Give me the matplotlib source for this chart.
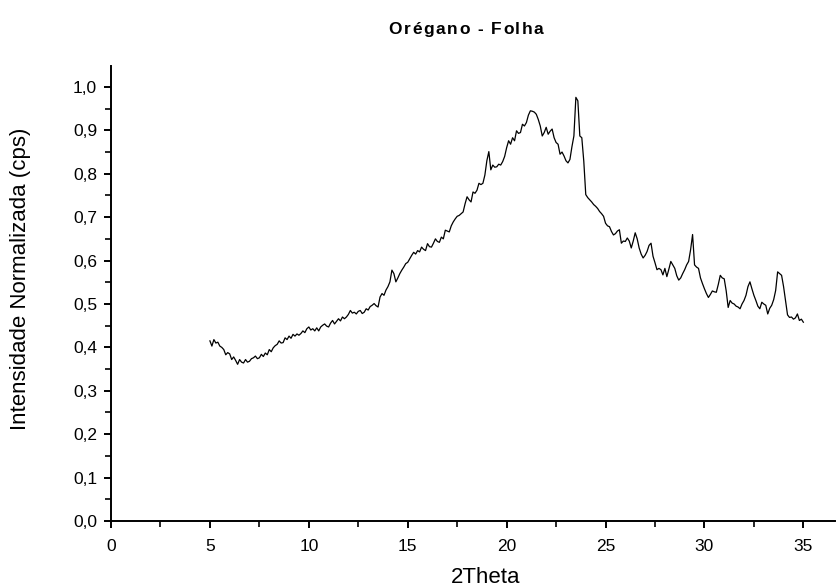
import numpy as np
import matplotlib
matplotlib.use("Agg")
import matplotlib.pyplot as plt
from matplotlib.ticker import MultipleLocator, FuncFormatter

plt.rcParams['font.family'] = ['Liberation Sans', 'DejaVu Sans']

two_theta_start = 5.0
two_theta_step = 0.1
intensity = [
    0.415, 0.403, 0.418, 0.410, 0.412, 0.403, 0.400, 0.395, 0.383, 0.388,
    0.385, 0.372, 0.378, 0.370, 0.361, 0.372, 0.366, 0.364, 0.372, 0.366,
    0.368, 0.374, 0.376, 0.380, 0.374, 0.376, 0.384, 0.379, 0.387, 0.383,
    0.395, 0.390, 0.399, 0.404, 0.407, 0.415, 0.410, 0.411, 0.422, 0.418,
    0.426, 0.421, 0.430, 0.426, 0.431, 0.428, 0.432, 0.438, 0.434, 0.443,
    0.447, 0.440, 0.443, 0.438, 0.445, 0.438, 0.447, 0.451, 0.454, 0.449,
    0.447, 0.456, 0.462, 0.454, 0.460, 0.466, 0.461, 0.470, 0.466, 0.470,
    0.476, 0.485, 0.479, 0.481, 0.477, 0.483, 0.485, 0.478, 0.481, 0.489,
    0.486, 0.494, 0.497, 0.501, 0.496, 0.493, 0.516, 0.524, 0.520, 0.532,
    0.540, 0.551, 0.578, 0.570, 0.551, 0.560, 0.570, 0.578, 0.585, 0.593,
    0.596, 0.604, 0.612, 0.619, 0.615, 0.623, 0.620, 0.631, 0.626, 0.623,
    0.639, 0.632, 0.631, 0.640, 0.650, 0.644, 0.642, 0.654, 0.650, 0.670,
    0.668, 0.666, 0.680, 0.689, 0.696, 0.702, 0.704, 0.708, 0.712, 0.731,
    0.747, 0.740, 0.735, 0.758, 0.755, 0.762, 0.778, 0.775, 0.778, 0.797,
    0.830, 0.851, 0.809, 0.820, 0.815, 0.816, 0.822, 0.820, 0.828, 0.840,
    0.860, 0.876, 0.868, 0.883, 0.876, 0.899, 0.893, 0.895, 0.914, 0.910,
    0.918, 0.935, 0.945, 0.944, 0.942, 0.937, 0.925, 0.910, 0.887, 0.895,
    0.907, 0.891, 0.898, 0.903, 0.883, 0.872, 0.868, 0.845, 0.850, 0.841,
    0.830, 0.825, 0.833, 0.862, 0.887, 0.976, 0.968, 0.887, 0.883, 0.829,
    0.752, 0.745, 0.740, 0.735, 0.729, 0.725, 0.720, 0.713, 0.708, 0.702,
    0.686, 0.680, 0.678, 0.667, 0.659, 0.662, 0.668, 0.671, 0.640, 0.645,
    0.644, 0.652, 0.645, 0.629, 0.645, 0.664, 0.650, 0.629, 0.615, 0.606,
    0.612, 0.621, 0.635, 0.640, 0.610, 0.595, 0.579, 0.582, 0.579, 0.567,
    0.582, 0.563, 0.580, 0.598, 0.590, 0.582, 0.565, 0.555, 0.560, 0.570,
    0.579, 0.590, 0.598, 0.625, 0.660, 0.590, 0.585, 0.582, 0.560, 0.547,
    0.535, 0.524, 0.515, 0.522, 0.530, 0.528, 0.527, 0.545, 0.566, 0.560,
    0.558, 0.530, 0.492, 0.508, 0.502, 0.500, 0.495, 0.493, 0.489, 0.500,
    0.508, 0.520, 0.540, 0.551, 0.535, 0.520, 0.508, 0.495, 0.489, 0.504,
    0.500, 0.497, 0.477, 0.490, 0.497, 0.510, 0.531, 0.574, 0.570, 0.566,
    0.540, 0.508, 0.475, 0.469, 0.470, 0.465, 0.468, 0.477, 0.462, 0.465,
    0.458,
]
two_theta = two_theta_start + two_theta_step * np.arange(len(intensity))

title = "Orégano - Folha"
xlabel = "2Theta"
ylabel = "Intensidade Normalizada (cps)"

fig = plt.figure(figsize=(8.36, 5.87), dpi=100)
ax = fig.add_axes([0.1328, 0.1124, 0.866, 0.775])
ax.plot(two_theta, intensity, color='black', linewidth=0.9)

ax.set_xlim(0, 36.6)
ax.set_ylim(0, 1.048)
ax.spines['top'].set_visible(False)
ax.spines['right'].set_visible(False)
for s in ('left', 'bottom'):
    ax.spines[s].set_linewidth(1.4)

ax.xaxis.set_major_locator(MultipleLocator(5))
ax.xaxis.set_minor_locator(MultipleLocator(2.5))
ax.yaxis.set_major_locator(MultipleLocator(0.1))
ax.yaxis.set_minor_locator(MultipleLocator(0.05))
ax.yaxis.set_major_formatter(FuncFormatter(lambda v, p: f"{v:.1f}".replace('.', ',')))
ax.tick_params(which='major', direction='out', length=5, width=1.4, labelsize=12.5)
ax.tick_params(axis='x', which='major', pad=8)
ax.tick_params(axis='y', which='major', pad=5)
ax.tick_params(which='minor', direction='out', length=4, width=1.2)

fig.text(0.581, 0.016, xlabel, fontsize=16, ha='center', va='center')
fig.text(0.024, 0.525, ylabel, fontsize=16, rotation=90, ha='center', va='center')

# letter-spaced bold title
fig.canvas.draw()
renderer = fig.canvas.get_renderer()
spacing_px = 1.6
widths = []
pieces = []
for ch in title:
    t = fig.text(0, 0.949, ch, fontsize=12.5, fontweight='bold', ha='left', va='center')
    w = t.get_window_extent(renderer).width if ch != ' ' else 4.5
    widths.append(w)
    pieces.append(t)
total = sum(widths) + spacing_px * (len(title) - 1)
fig_w = fig.get_figwidth() * fig.dpi
xpos = 466 - total / 2
for t, w in zip(pieces, widths):
    t.set_x(xpos / fig_w)
    xpos += w + spacing_px

fig.savefig("out.png", dpi=100)
